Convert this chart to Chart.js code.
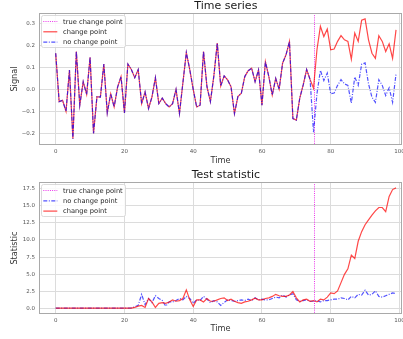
<!DOCTYPE html>
<html><head><meta charset="utf-8">
<script src="https://cdn.jsdelivr.net/npm/chart.js@4/dist/chart.umd.min.js"></script>
<style>
html,body{margin:0;padding:0;background:#fff;overflow:hidden}
body{width:403px;height:339px;position:relative}
canvas{position:absolute;left:0}
#sigChart{top:0}
#statChart{top:165px}
</style></head><body>
<canvas id="sigChart" width="403" height="170"></canvas>
<canvas id="statChart" width="403" height="174"></canvas>
<script>
// time index 0..99, change happens at t = 75
const time = Array.from({length: 100}, (_, i) => i);
const trueChangePoint = 75;

// signal, identical for both series up to t = 74
const signalBefore = [0.164, -0.056, -0.05, -0.10, 0.088, -0.224, 0.172, -0.072, 0.035, -0.023,
  0.146, -0.20, -0.033, -0.035, 0.115, -0.107, -0.02, -0.08, 0.01, 0.058,
  -0.107, 0.115, 0.09, 0.053, 0.09, -0.065, -0.012, -0.087, -0.035, 0.053,
  -0.065, -0.04, -0.065, -0.08, -0.065, 0.0, -0.11, 0.03, 0.167, 0.09,
  0.0, -0.08, -0.072, 0.172, 0.012, -0.056, 0.06, 0.21, 0.015, 0.061,
  0.043, 0.012, -0.11, -0.033, -0.018, 0.058, 0.085, 0.096, 0.035, 0.088,
  -0.072, 0.126, 0.058, -0.026, 0.05, 0.0, 0.119, 0.157, 0.217, -0.133,
  -0.14, -0.04, 0.02, 0.09, 0.045];
const signalAfterChange = [0.005, 0.18, 0.286, 0.24, 0.274, 0.18, 0.183, 0.218, 0.244, 0.225,
  0.218, 0.137, 0.256, 0.218, 0.314, 0.32, 0.225, 0.164, 0.141, 0.244,
  0.218, 0.172, 0.207, 0.141, 0.27];
const signalAfterNoChange = [-0.195, -0.02, 0.086, 0.04, 0.074, -0.02, -0.017, 0.018, 0.044, 0.025,
  0.018, -0.063, 0.056, 0.018, 0.114, 0.12, 0.025, -0.036, -0.059, 0.044,
  0.018, -0.028, 0.007, -0.059, 0.07];

const statNoChange = [0.1, 0.1, 0.1, 0.1, 0.1, 0.1, 0.1, 0.1, 0.1, 0.1,
  0.1, 0.1, 0.1, 0.1, 0.1, 0.1, 0.1, 0.1, 0.1, 0.1,
  0.1, 0.1, 0.15, 0.3, 0.5, 2.1, 0.6, 1.5, 0.9, 1.9,
  1.5, 1.2, 0.4, 1.0, 1.0, 1.2, 1.5, 1.3, 1.8, 1.5,
  0.8, 1.3, 1.2, 1.8, 1.4, 0.9, 1.2, 1.0, 0.5, 0.9,
  1.3, 1.2, 1.1, 1.2, 1.3, 1.2, 1.4, 1.2, 1.6, 1.3,
  1.4, 1.3, 1.3, 1.5, 1.7, 1.6, 2.0, 1.7, 2.0, 2.2,
  1.3, 1.1, 1.2, 1.3, 1.1, 1.1, 1.2, 1.0, 1.2, 1.2,
  1.3, 1.4, 1.4, 1.6, 1.5, 1.3, 1.8, 1.6, 2.1, 2.0,
  2.7, 2.0, 2.1, 2.6, 1.8, 1.7, 1.9, 2.1, 2.3, 2.2];
const statChange = [0.1, 0.1, 0.1, 0.1, 0.1, 0.1, 0.1, 0.1, 0.1, 0.1,
  0.1, 0.1, 0.1, 0.1, 0.1, 0.1, 0.1, 0.1, 0.1, 0.1,
  0.1, 0.1, 0.1, 0.2, 0.4, 0.5, 0.2, 1.5, 1.0, 0.2,
  0.8, 0.9, 0.8, 1.0, 1.3, 1.1, 1.2, 1.5, 2.75, 1.3,
  0.35, 1.3, 1.3, 1.0, 1.5, 1.1, 1.1, 1.3, 1.5, 1.6,
  1.2, 1.4, 1.1, 0.9, 0.8, 1.0, 1.1, 1.3, 1.55, 1.3,
  1.3, 1.5, 1.6, 1.8, 2.1, 1.9, 1.8, 1.8, 2.0, 2.5,
  1.6, 1.0, 1.3, 1.4, 1.1, 1.2, 1.0, 1.4, 1.3, 1.7,
  2.3, 2.2, 2.6, 3.8, 5.0, 5.8, 7.8, 7.3, 9.8, 11.2,
  12.2, 12.9, 13.6, 14.2, 14.7, 14.7, 14.1, 16.3, 17.3, 17.55];

const xTicks = [0, 20, 40, 60, 80, 100];
const signalTicks = [-0.2, -0.1, 0.0, 0.1, 0.2, 0.3];
const statTicks = [0, 2.5, 5, 7.5, 10, 12.5, 15, 17.5];

const FONT = '"DejaVu Sans", sans-serif';
const RED = 'rgba(255,0,0,0.72)', BLUE = 'rgba(0,0,255,0.68)', MAGENTA = 'rgba(230,0,230,0.8)';
const GRID = '#dcdcdc', FRAME = '#a9a9a9';
const DOTTED = [1, 1.2], DASHDOT = [4, 1.5, 1, 1.5];
const toPts = arr => arr.map((v, i) => ({x: time[i], y: v}));

// matplotlib look: change point marker, frame, centred title, legend box
const mplBox = {
  id: 'mplBox',
  beforeDatasetsDraw(chart){
    const {ctx, chartArea: a, scales: {x}} = chart;
    const px = Math.round(x.getPixelForValue(trueChangePoint)) + 0.5;
    ctx.save(); ctx.strokeStyle = MAGENTA; ctx.lineWidth = 1; ctx.setLineDash(DOTTED);
    ctx.beginPath(); ctx.moveTo(px, a.top); ctx.lineTo(px, a.bottom); ctx.stroke(); ctx.restore();
  },
  afterDatasetsDraw(chart){
    const {ctx, chartArea: a} = chart;
    ctx.save(); ctx.strokeStyle = FRAME; ctx.lineWidth = 1;
    ctx.strokeRect(a.left + 0.5, a.top + 0.5, a.right - a.left - 1, a.bottom - a.top - 1); ctx.restore();
  },
  afterDraw(chart, args, o){
    const {ctx, chartArea: a, scales: {x}} = chart;
    ctx.save();
    ctx.fillStyle = '#1a1a1a'; ctx.font = `11px ${FONT}`; ctx.textAlign = 'center'; ctx.textBaseline = 'middle';
    ctx.fillText(o.title, x.getPixelForValue(49.5), o.titleY);
    const lx = a.left + 2.5, ly = a.top + 2.5;
    ctx.fillStyle = 'rgba(255,255,255,0.85)'; ctx.strokeStyle = '#d2d2d2'; ctx.lineWidth = 0.8;
    ctx.beginPath(); ctx.roundRect(lx, ly, 84, 32, 2); ctx.fill(); ctx.stroke();
    ctx.font = `6.7px ${FONT}`; ctx.textAlign = 'left';
    o.legend.forEach((e, i) => {
      const y = ly + 6 + i * 10.3;
      ctx.strokeStyle = e.color; ctx.lineWidth = 1.2; ctx.setLineDash(e.dash);
      ctx.beginPath(); ctx.moveTo(lx + 1.8, y); ctx.lineTo(lx + 15.8, y); ctx.stroke();
      ctx.setLineDash([]); ctx.fillStyle = '#262626';
      ctx.fillText(e.label, lx + 21.6, y + 0.3);
    });
    ctx.restore();
  }
};

const axes = (yMin, yMax, yTicks, yTitle, yFmt, timePad) => ({
  x: { type: 'linear', min: -4.86, max: 100.74,
    afterBuildTicks: s => { s.ticks = xTicks.map(v => ({value: v})); },
    afterFit: s => { s.height = 25; s.paddingLeft = 0; s.paddingRight = 0; },
    grid: { color: GRID, drawTicks: false }, border: { display: false },
    ticks: { padding: 3, color: '#555', font: {family: FONT, size: 5.5}, maxRotation: 0, autoSkip: false, callback: v => String(v) },
    title: { display: true, text: 'Time', color: '#333', font: {family: FONT, size: 8.2}, padding: {top: 0, bottom: timePad} } },
  y: { min: yMin, max: yMax,
    afterBuildTicks: s => { s.ticks = yTicks.map(v => ({value: v})); },
    afterFit: s => { s.width = 39; s.paddingTop = 0; s.paddingBottom = 0; },
    grid: { color: GRID, drawTicks: false }, border: { display: false },
    ticks: { padding: 4, color: '#555', font: {family: FONT, size: 5.5}, autoSkip: false, callback: yFmt },
    title: { display: true, text: yTitle, color: '#333', font: {family: FONT, size: 8.2}, padding: {top: 10, bottom: 0} } }
});
const fmt1 = v => v.toFixed(1).replace('-', '\u2212');

new Chart(document.getElementById('sigChart'), {
  type: 'line',
  data: { datasets: [
    { label: 'no change point', data: toPts(signalBefore.concat(signalAfterNoChange)), borderColor: BLUE, borderDash: DASHDOT, borderWidth: 1.2, pointRadius: 0, order: 0 },
    { label: 'change point', data: toPts(signalBefore.concat(signalAfterChange)), borderColor: RED, borderWidth: 1.2, pointRadius: 0, order: 1 }
  ]},
  options: { responsive: false, animation: false, layout: { padding: {top: 13, right: 1, left: 0, bottom: 0} },
    plugins: { legend: {display: false}, tooltip: {enabled: false},
      mplBox: { title: 'Time series', titleY: 6.5, legend: [
        {label: 'true change point', color: MAGENTA, dash: DOTTED},
        {label: 'change point', color: RED, dash: []},
        {label: 'no change point', color: BLUE, dash: DASHDOT}] } },
    scales: axes(-0.253, 0.347, signalTicks, 'Signal', fmt1, 4.4) },
  plugins: [mplBox]
});

new Chart(document.getElementById('statChart'), {
  type: 'line',
  data: { datasets: [
    { label: 'change point', data: toPts(statChange), borderColor: RED, borderWidth: 1.2, pointRadius: 0, order: 0 },
    { label: 'no change point', data: toPts(statNoChange), borderColor: BLUE, borderDash: DASHDOT, borderWidth: 1.2, pointRadius: 0, order: 1 }
  ]},
  options: { responsive: false, animation: false, layout: { padding: {top: 17, right: 1, left: 0, bottom: 0} },
    plugins: { legend: {display: false}, tooltip: {enabled: false},
      mplBox: { title: 'Test statistic', titleY: 10, legend: [
        {label: 'true change point', color: MAGENTA, dash: DOTTED},
        {label: 'no change point', color: BLUE, dash: DASHDOT},
        {label: 'change point', color: RED, dash: []}] } },
    scales: axes(-0.75, 18.4, statTicks, 'Statistic', fmt1, 5.1) },
  plugins: [mplBox]
});
</script>
</body></html>
